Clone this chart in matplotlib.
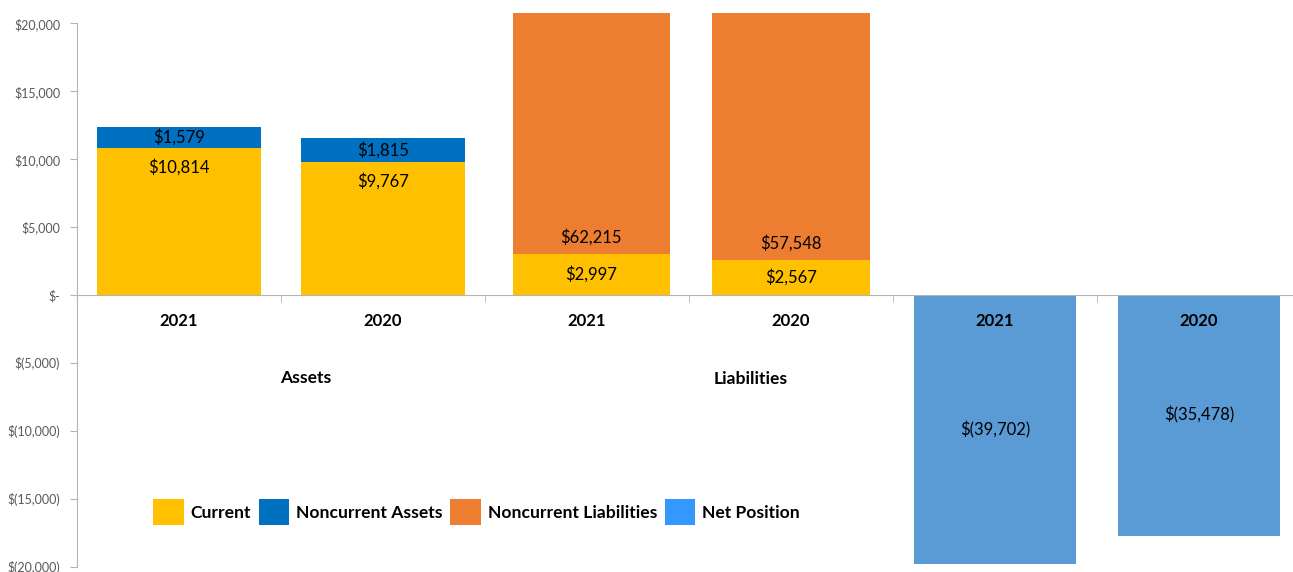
import matplotlib.pyplot as plt
from matplotlib.patches import Patch
from matplotlib.ticker import FuncFormatter

plt.rcParams['font.family'] = ['Lato', 'DejaVu Sans']

years = ['2021', '2020', '2021', '2020', '2021', '2020']
groups = ['Assets', 'Liabilities']
current_assets = [10814, 9767]
noncurrent_assets = [1579, 1815]
current_liab = [2997, 2567]
noncurrent_liab = [62215, 57548]
net_position = [-39702, -35478]
legend_labels = ['Current', 'Noncurrent Assets', 'Noncurrent Liabilities', 'Net Position']

yellow = '#FFC000'
blue = '#0070C0'
orange = '#ED7D31'
netblue = '#5B9BD5'
gray = '#B4B4B4'


def money(v, pos=None):
    if v == 0:
        return '$-'
    if v < 0:
        return '$({:,.0f})'.format(-v)
    return '${:,.0f}'.format(v)


fig = plt.figure(figsize=(12.93, 5.72), dpi=100)
ax = fig.add_axes([77/1293, 0, 1224/1293, 559/572])
ax2 = ax.twinx()
ax.set_zorder(ax2.get_zorder() + 1)
ax.patch.set_visible(False)

ax.set_xlim(-0.5, 5.5)
ax.set_ylim(-20405, 20773)
# net position sits on a hidden secondary scale (twice the primary)
ax2.set_ylim(-40810, 41546)
ax2.axis('off')

xa = [0, 1]
xl = [2.02, 3.0]
xn = [4, 5]

ax.bar(xa, current_assets, 0.80, color=yellow)
ax.bar(xa, noncurrent_assets, 0.80, bottom=current_assets, color=blue)
ax.bar(xl, current_liab, 0.77, color=yellow)
ax.bar(xl, noncurrent_liab, 0.77, bottom=current_liab, color=orange)
ax2.bar(xn, net_position, 0.79, color=netblue)

vfont = dict(fontsize=12, color='black', ha='center', va='center')
for i in range(2):
    ax.annotate(money(current_assets[i]), (xa[i], current_assets[i]), xytext=(0, -19),
                textcoords='offset pixels', **vfont)
    ax.annotate(money(noncurrent_assets[i]), (xa[i], current_assets[i] + noncurrent_assets[i] / 2), **vfont)
    ax.annotate(money(current_liab[i]), (xl[i], current_liab[i] / 2), **vfont)
    ax.annotate(money(noncurrent_liab[i]), (xl[i], current_liab[i]), xytext=(0, 17),
                textcoords='offset pixels', **vfont)
    ax2.annotate(money(net_position[i]), (xn[i], net_position[i] / 2), **vfont)

# year labels under the zero line
for i, yr in enumerate(years):
    ax.annotate(yr, (i, 0), xytext=(0, -26), textcoords='offset pixels', ha='center', va='center',
                fontsize=12, fontweight='bold', color='black')

ax.set_xticks([])
ax.set_xticks([0.5, 1.5, 2.5, 3.5, 4.5], minor=True)
ax.tick_params(axis='x', which='minor', length=5, color=gray, direction='out')

ax.set_yticks(range(-20000, 20001, 5000))
ax.yaxis.set_major_formatter(FuncFormatter(money))
ax.tick_params(axis='y', length=5, color=gray, labelsize=9, labelcolor='#595959', pad=7)

ax.spines['top'].set_visible(False)
ax.spines['right'].set_visible(False)
ax.spines['bottom'].set_position(('data', 0))
ax.spines['bottom'].set_color(gray)
ax.spines['left'].set_color(gray)
ax.spines['left'].set_bounds(-20000, 20000)

ax.text(0.62, -6114, groups[0], ha='center', va='center', fontsize=12.6, fontweight='bold')
ax.text(2.80, -6200, groups[1], ha='center', va='center', fontsize=12.6, fontweight='bold')

handles = [Patch(facecolor=yellow), Patch(facecolor=blue), Patch(facecolor=orange), Patch(facecolor='#3399FF')]
fig.legend(handles, legend_labels, loc='center left', bbox_to_anchor=(153/1293, 60/572), ncol=4,
           frameon=False, borderpad=0, borderaxespad=0, handlelength=1.75, handleheight=1.85,
           handletextpad=0.4, columnspacing=0.43, prop={'weight': 'bold', 'size': 12.6})

fig.savefig('out.png', dpi=100)
